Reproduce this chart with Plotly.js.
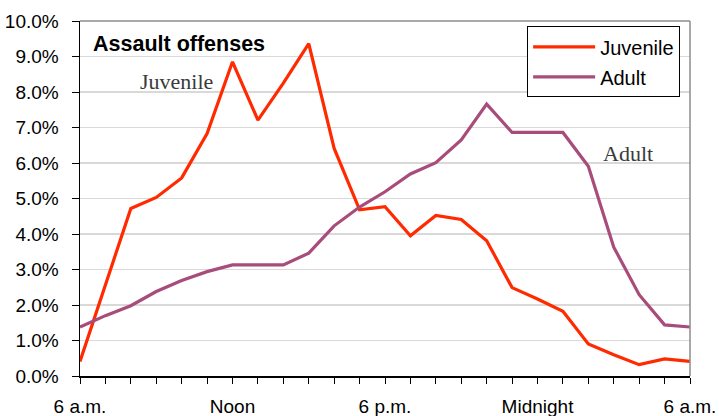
<!DOCTYPE html>
<html>
<head>
<meta charset="utf-8">
<script src="https://cdn.plot.ly/plotly-3.0.1.min.js"></script>
<style>html,body{margin:0;padding:0;background:#fff;}#chart{width:719px;height:416px;}</style>
</head>
<body>
<div id="chart"></div>
<script>
// Hours from 6 a.m. (0) to 6 a.m. next day (24)
const hours = [0,1,2,3,4,5,6,7,8,9,10,11,12,13,14,15,16,17,18,19,20,21,22,23,24];
const juvenile = [0.41,2.55,4.72,5.03,5.58,6.83,8.85,7.21,8.25,9.36,6.41,4.68,4.77,3.95,4.52,4.41,3.81,2.49,2.17,1.82,0.90,0.60,0.32,0.48,0.41];
const adult = [1.38,1.70,1.98,2.38,2.69,2.94,3.13,3.13,3.13,3.46,4.23,4.76,5.19,5.69,6.01,6.65,7.66,6.86,6.86,6.86,5.91,3.63,2.29,1.44,1.38];
const xTickLabels = ["6 a.m.","","","","","","Noon","","","","","","6 p.m.","","","","","","Midnight","","","","","","6 a.m."];
const yTickVals = [0,1,2,3,4,5,6,7,8,9,10];
const yTickLabels = ["0.0%","1.0%","2.0%","3.0%","4.0%","5.0%","6.0%","7.0%","8.0%","9.0%","10.0%"];

const font = {family: '"Liberation Sans", Arial, sans-serif', size: 19, color: '#000'};

const traces = [
  {x: hours, y: juvenile, name: 'Juvenile', type: 'scatter', mode: 'lines', legendgroup: 'j',
   line: {color: '#ff2a00', width: 3.2}},
  {x: hours, y: adult, name: 'Adult', type: 'scatter', mode: 'lines', legendgroup: 'a',
   line: {color: '#a84c7c', width: 3.2}}
];

const layout = {
  width: 719, height: 416,
  margin: {l: 80, r: 29, t: 21, b: 40},
  paper_bgcolor: '#fff', plot_bgcolor: '#fff',
  font: font,
  showlegend: true,
  legend: {x: 0.733, y: 0.985, xanchor: 'left', yanchor: 'top',
           bordercolor: '#000', borderwidth: 1, bgcolor: '#fff',
           font: {family: font.family, size: 20, color: '#000'},
           traceorder: 'grouped', tracegroupgap: 1, itemwidth: 62},
  xaxis: {range: [0, 24], tickmode: 'array', tickvals: hours, ticktext: xTickLabels,
          showgrid: false, zeroline: false, showline: true, linecolor: '#000', linewidth: 1.5,
          ticks: 'outside', ticklen: 6, tickcolor: '#000', tickwidth: 1,
          ticklabelstandoff: 7, tickfont: font},
  yaxis: {range: [0, 10], tickmode: 'array', tickvals: yTickVals, ticktext: yTickLabels,
          showgrid: true, gridcolor: '#d9d9d9', gridwidth: 1.2, zeroline: false,
          showline: true, linecolor: '#000', linewidth: 1.5,
          ticks: 'outside', ticklen: 7, tickcolor: '#000', tickwidth: 1,
          ticklabelstandoff: 9, tickfont: font},
  shapes: [
    {type: 'line', xref: 'paper', yref: 'paper', x0: 0, x1: 1, y0: 1, y1: 1, line: {color: '#8c8c8c', width: 1.5}},
    {type: 'line', xref: 'paper', yref: 'paper', x0: 1, x1: 1, y0: 0, y1: 1, line: {color: '#8c8c8c', width: 1.5}}
  ],
  annotations: [
    {text: '<b>Assault offenses</b>', xref: 'paper', yref: 'paper', x: 0.018, y: 0.935,
     xanchor: 'left', yanchor: 'middle', showarrow: false,
     font: {family: font.family, size: 21.5, color: '#000'}},
    {text: 'Juvenile', xref: 'x', yref: 'y', x: 3.78, y: 8.3, xanchor: 'center', yanchor: 'middle',
     showarrow: false, font: {family: '"Liberation Serif", "DejaVu Serif", serif', size: 22, color: '#3a3a3a'}},
    {text: 'Adult', xref: 'x', yref: 'y', x: 21.55, y: 6.28, xanchor: 'center', yanchor: 'middle',
     showarrow: false, font: {family: '"Liberation Serif", "DejaVu Serif", serif', size: 22, color: '#3a3a3a'}}
  ]
};

Plotly.newPlot('chart', traces, layout, {displayModeBar: false, staticPlot: true});
</script>
</body>
</html>
